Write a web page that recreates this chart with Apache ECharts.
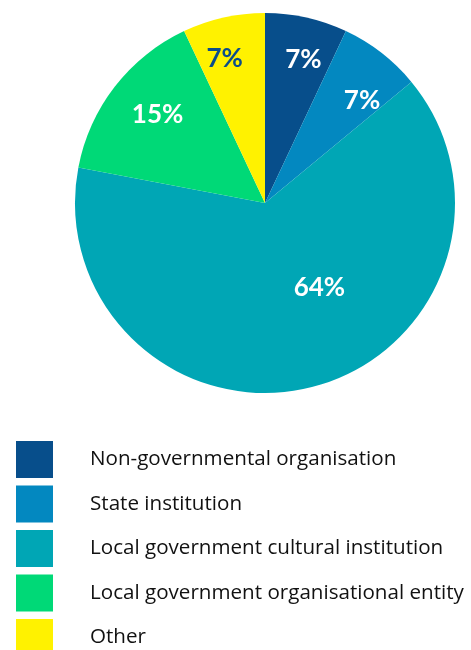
<!DOCTYPE html>
<html>
<head>
<meta charset="utf-8">
<script src="https://cdn.jsdelivr.net/npm/echarts@6/dist/echarts.min.js"></script>
<style>
html,body{margin:0;padding:0;background:#fff;}
#chart{width:471px;height:650px;}
</style>
</head>
<body>
<div id="chart"></div>
<script>
// Organisation types and their shares (%)
const categories = [
  'Non-governmental organisation',
  'State institution',
  'Local government cultural institution',
  'Local government organisational entity',
  'Other'
];
const shares = [7, 7, 64, 15, 7];

const colors = ['#074e8b', '#0388c0', '#00a6b5', '#00d977', '#fff200'];
const labelColors = ['#ffffff', '#ffffff', '#ffffff', '#ffffff', '#0b4d8a'];
// nudges of the percentage labels away from the default inside spot
const labelOffsets = [[17, -48], [37, -25], [30, -10], [-30, -28], [-19, -49]];

const chart = echarts.init(document.getElementById('chart'), null, {renderer: 'canvas'});

chart.setOption({
  animation: false,
  color: colors,
  legend: {
    orient: 'vertical',
    left: 16,
    top: 441,
    height: 260,
    padding: 0,
    icon: 'rect',
    itemWidth: 37,
    itemHeight: 37,
    itemGap: 7.5,
    selectedMode: false,
    textStyle: {
      fontFamily: 'Open Sans',
      fontSize: 20.6,
      color: '#111111',
      padding: [0, 0, 0, 32]
    },
    data: categories
  },
  series: [{
    type: 'pie',
    center: [265, 203],
    radius: 190,
    startAngle: 90,
    clockwise: true,
    avoidLabelOverlap: false,
    itemStyle: {borderWidth: 0},
    emphasis: {disabled: true},
    labelLine: {show: false},
    data: categories.map((name, i) => ({
      name: name,
      value: shares[i],
      label: {
        show: true,
        position: 'inside',
        formatter: shares[i] + '%',
        fontFamily: 'Lato',
        fontWeight: 'bold',
        fontSize: 26,
        color: labelColors[i],
        offset: labelOffsets[i]
      }
    }))
  }]
});
</script>
</body>
</html>
